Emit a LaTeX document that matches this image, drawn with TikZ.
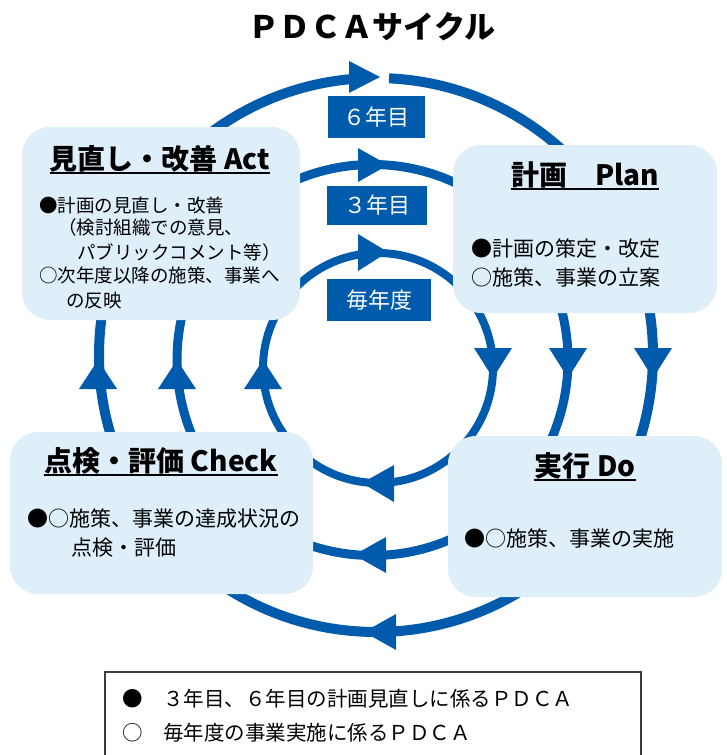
\documentclass[tikz,border=0pt]{standalone}
\usepackage{fontspec}
\setmainfont{Noto Sans CJK JP}
\definecolor{ringblue}{RGB}{0,91,172}
\definecolor{boxblue}{RGB}{222,239,250}
\definecolor{legendline}{RGB}{60,60,60}
\tikzset{
  panel/.style={fill=boxblue, draw=none, rounded corners=28pt, inner sep=0pt},
  tag/.style={fill=ringblue, text=white, inner sep=0pt, font=\fontsize{22}{22}\selectfont},
  head/.style={anchor=base, inner sep=0pt, font=\bfseries\fontsize{28}{28}\selectfont},
  uline/.style={line width=2.5pt, black},
  bodys/.style={anchor=base west, inner sep=0pt, font=\fontsize{18.5}{18.5}\selectfont},
  bodyl/.style={anchor=base west, inner sep=0pt, font=\fontsize{21}{21}\selectfont},
  legtext/.style={anchor=base west, inner sep=0pt, font=\fontsize{20.5}{20.5}\selectfont},
  arrowhead/.style={fill=ringblue, draw=none},
}
\begin{document}
\begin{tikzpicture}[x=1pt,y=-1pt]
\useasboundingbox (0,0) rectangle (726,755);

% title
\node[inner sep=0pt, font=\bfseries\fontsize{31}{31}\selectfont] (title) at (372,27) {ＰＤＣＡサイクル};

% ring centres
\coordinate (co) at (376,355);
\coordinate (cm) at (372.5,360);
\coordinate (ci) at (378,368);

% rings
\draw[ringblue, line width=10pt] ([shift={(87.3:277pt)}]co) arc[start angle=87.3, end angle=-267, radius=277pt];
\draw[ringblue, line width=9pt] (cm) circle[radius=195.5pt];
\draw[ringblue, line width=8pt] (ci) circle[radius=115pt];

% top arrowheads (pointing right)
\fill[arrowhead] (380,77) -- (349,61) -- (349,93) -- cycle;
\fill[arrowhead] (388,165) -- (358,148) -- (358,182) -- cycle;
\fill[arrowhead] (388,252) -- (358,234) -- (358,271) -- cycle;
% right arrowheads (pointing down)
\fill[arrowhead] (493,378) -- (474,348) -- (512,348) -- cycle;
\fill[arrowhead] (568,378) -- (549,348) -- (587,348) -- cycle;
\fill[arrowhead] (653,378) -- (634,348) -- (672,348) -- cycle;
% bottom arrowheads (pointing left)
\fill[arrowhead] (362,483) -- (394,465) -- (394,502) -- cycle;
\fill[arrowhead] (354,555) -- (386,537) -- (386,573) -- cycle;
\fill[arrowhead] (364,632) -- (396,614) -- (396,650) -- cycle;
% left arrowheads (pointing up)
\fill[arrowhead] (98,360) -- (79,389) -- (117,389) -- cycle;
\fill[arrowhead] (177,360) -- (158,389) -- (196,389) -- cycle;
\fill[arrowhead] (263,360) -- (244,389) -- (282,389) -- cycle;

% panels
\node[panel, minimum width=278pt, minimum height=193pt] (act) at (161,223.5) {};
\node[panel, minimum width=264pt, minimum height=168pt] (plan) at (585,229) {};
\node[panel, minimum width=303pt, minimum height=162pt] (check) at (161.5,513) {};
\node[panel, minimum width=274pt, minimum height=161pt] (do) at (585,516.5) {};

% headings
\node[head] (acth) at (160,169) {見直し・改善 Act};
\draw[uline] ([yshift=-4pt]acth.base west) -- ([yshift=-4pt]acth.base east);
\node[head] (planh) at (585,185) {計画　Plan};
\draw[uline] ([yshift=-4pt]planh.base west) -- ([yshift=-4pt]planh.base east);
\node[head] (checkh) at (161,471) {点検・評価 Check};
\draw[uline] ([yshift=-4pt]checkh.base west) -- ([yshift=-4pt]checkh.base east);
\node[head] (doh) at (585,476) {実行 Do};
\draw[uline] ([yshift=-4pt]doh.base west) -- ([yshift=-4pt]doh.base east);

% Act body
\node[bodys] (a1) at (39,212) {●計画の見直し・改善};
\node[bodys] (a2) at (58,234) {（検討組織での意見、};
\node[bodys] (a3) at (77,259) {パブリックコメント等）};
\node[bodys] (a4) at (39,282) {○次年度以降の施策、事業へ};
\node[bodys] (a5) at (66,307) {の反映};

% Plan body
\node[bodyl] (p1) at (471,256) {●計画の策定・改定};
\node[bodyl] (p2) at (471,285) {○施策、事業の立案};

% Check body
\node[bodyl] (c1) at (27,526) {●○施策、事業の達成状況の};
\node[bodyl] (c2) at (71,555) {点検・評価};

% Do body
\node[bodyl] (d1) at (464,546) {●○施策、事業の実施};

% year tags
\node[tag, minimum width=97pt, minimum height=42pt] (y6) at (376.5,117) {６年目};
\node[tag, minimum width=100pt, minimum height=39pt] (y3) at (377,205.5) {３年目};
\node[tag, minimum width=104pt, minimum height=42pt] (y1) at (379,300) {毎年度};

% legend
\draw[legendline, line width=1.2pt] (105,760) -- (105,672) -- (641,672) -- (641,760);
\node[legtext] (l1) at (122,706) {●　３年目、６年目の計画見直しに係るＰＤＣＡ};
\node[legtext] (l2) at (122,740) {○　毎年度の事業実施に係るＰＤＣＡ};
\end{tikzpicture}
\end{document}
